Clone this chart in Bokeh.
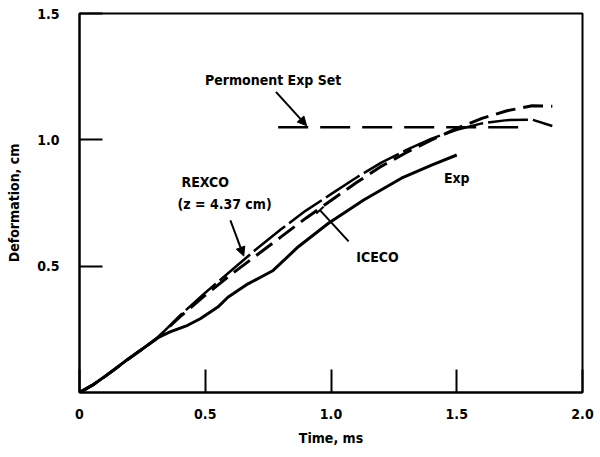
from bokeh.plotting import figure
from bokeh.models import FixedTicker, Label, Arrow, NormalHead, TeeHead
from bokeh.embed import file_html
from bokeh.resources import INLINE

# ---- data ----
exp_t = [0, 0.05, 0.095, 0.14, 0.19, 0.25, 0.31, 0.36, 0.43, 0.48, 0.55, 0.59, 0.63, 0.67, 0.72,
         0.77, 0.87, 0.99, 1.13, 1.28, 1.40, 1.5]
exp_d = [0, 0.028, 0.059, 0.092, 0.13, 0.172, 0.216, 0.24, 0.266, 0.292, 0.338, 0.377, 0.404, 0.43, 0.456,
         0.483, 0.577, 0.67, 0.762, 0.848, 0.90, 0.94]

rexco_t = [0, 0.05, 0.095, 0.14, 0.19, 0.25, 0.31, 0.4, 0.5, 0.6, 0.7, 0.8, 0.9, 1.0, 1.1, 1.2, 1.3, 1.4,
           1.5, 1.6, 1.7, 1.8, 1.88]
rexco_d = [0, 0.028, 0.059, 0.092, 0.13, 0.172, 0.216, 0.305, 0.395, 0.48, 0.565, 0.645, 0.72, 0.785, 0.85,
           0.91, 0.96, 1.005, 1.04, 1.065, 1.078, 1.08, 1.055]

iceco_t = [0, 0.05, 0.095, 0.14, 0.19, 0.25, 0.31, 0.4, 0.5, 0.6, 0.7, 0.8, 0.9, 1.0, 1.1, 1.2, 1.3, 1.4,
           1.5, 1.6, 1.7, 1.8, 1.88]
iceco_d = [0, 0.028, 0.059, 0.092, 0.13, 0.172, 0.216, 0.30, 0.385, 0.465, 0.54, 0.615, 0.69, 0.76, 0.83,
           0.895, 0.95, 1.0, 1.045, 1.085, 1.115, 1.135, 1.133]

perm_t = [0.79, 1.75]
perm_d = [1.05, 1.05]

x_ticks = [0, 0.5, 1.0, 1.5, 2.0]
x_tick_labels = ["0", "0.5", "1.0", "1.5", "2.0"]
y_ticks = [0.5, 1.0, 1.5]
y_tick_labels = ["0.5", "1.0", "1.5"]

FONT = "DejaVu Sans Condensed"

p = figure(width=600, height=457, x_range=(0, 2.0), y_range=(0, 1.5),
           min_border_left=79, min_border_right=18, min_border_top=13, min_border_bottom=65,
           output_backend="svg", toolbar_location=None)
p.background_fill_color = "white"
p.border_fill_color = "white"
p.outline_line_color = "black"
p.outline_line_width = 2
p.grid.visible = False

for ax in (p.xaxis, p.yaxis):
    ax.axis_line_width = 2
    ax.axis_line_color = "black"
    ax.major_tick_in = 23
    ax.major_tick_out = 0
    ax.major_tick_line_width = 2
    ax.major_tick_line_color = "black"
    ax.minor_tick_line_color = None
    ax.major_label_text_font = FONT
    ax.major_label_text_font_style = "bold"
    ax.major_label_text_font_size = "14px"
    ax.major_label_text_color = "black"
    ax.axis_label_text_font = FONT
    ax.axis_label_text_font_style = "bold"
    ax.axis_label_text_font_size = "14px"
    ax.axis_label_text_color = "black"

p.xaxis.ticker = FixedTicker(ticks=x_ticks)
p.xaxis.major_label_overrides = {t: s for t, s in zip(x_ticks, x_tick_labels)}
p.yaxis.ticker = FixedTicker(ticks=y_ticks)
p.yaxis.major_label_overrides = {t: s for t, s in zip(y_ticks, y_tick_labels)}
p.xaxis.major_label_standoff = 16
p.yaxis.major_label_standoff = 20
p.xaxis.axis_label = "Time, ms"
p.yaxis.axis_label = "Deformation, cm"
p.xaxis.axis_label_standoff = 8
p.yaxis.axis_label_standoff = 12

# curves
p.line(exp_t, exp_d, line_color="black", line_width=3, line_join="round")
p.line(rexco_t, rexco_d, line_color="black", line_width=2.5, line_dash="40 5", line_join="round")
p.line(iceco_t, iceco_d, line_color="black", line_width=3, line_dash="20 8", line_join="round")
p.line(perm_t, perm_d, line_color="black", line_width=2.5, line_dash="30 12")

def lab(x, y, text, align="center"):
    p.add_layout(Label(x=x, y=y, text=text, text_font=FONT, text_font_style="bold",
                       text_font_size="14px", text_align=align, text_baseline="middle",
                       text_color="black"))

lab(0.77, 1.236, "Permonent Exp Set")
lab(0.50, 0.835, "REXCO")
lab(0.577, 0.746, "(z = 4.37 cm)")
lab(1.185, 0.538, "ICECO")
lab(1.50, 0.847, "Exp")

p.add_layout(Arrow(x_start=0.781, y_start=1.19, x_end=0.903, y_end=1.056,
                   line_width=2, line_color="black",
                   end=NormalHead(size=9, fill_color="black", line_color="black")))
p.add_layout(Arrow(x_start=0.600, y_start=0.681, x_end=0.653, y_end=0.540,
                   line_width=2, line_color="black",
                   end=NormalHead(size=9, fill_color="black", line_color="black")))
p.add_layout(Arrow(x_start=1.07, y_start=0.598, x_end=0.956, y_end=0.722,
                   line_width=2, line_color="black",
                   end=TeeHead(size=10, line_color="black", line_width=2)))

open("out.html", "w").write(file_html(p, INLINE))
